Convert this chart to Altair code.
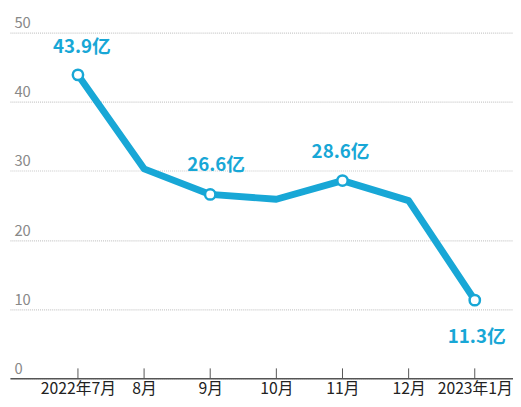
import altair as alt
import pandas as pd

months = ["2022年7月", "8月", "9月", "10月", "11月", "12月", "2023年1月"]
values = [43.9, 30.3, 26.6, 25.9, 28.6, 25.7, 11.3]
labeled = [True, False, True, False, True, False, True]
label_texts = ["43.9亿", "", "26.6亿", "", "28.6亿", "", "11.3亿"]
y_ticks = [0, 10, 20, 30, 40, 50]

df = pd.DataFrame({"month": months, "value": values, "labeled": labeled, "label": label_texts})

BLUE = "#18a7d6"
W, H = 511, 351
FONT = "Noto Sans CJK SC"

xscale = alt.Scale(type="point", padding=0.803, align=0.64)

x = alt.X("month:N", sort=months, scale=xscale,
          axis=alt.Axis(title=None, labelAngle=0, ticks=False, domain=True,
                        domainColor="#555", domainWidth=1.5, labelColor="#222",
                        labelFontSize=16, labelFont=FONT, labelPadding=3, grid=False))
y = alt.Y("value:Q", scale=alt.Scale(domain=[0, 50], nice=False),
          axis=alt.Axis(title=None, values=y_ticks, ticks=False, domain=False,
                        grid=True, gridColor="#c8c8c8", gridDash=[1, 1], gridWidth=1.2,
                        labelAlign="left", labelBaseline="bottom", labelPadding=-4,
                        labelOffset=-2, labelColor="#888", labelFontSize=15,
                        labelFont=FONT))

base = alt.Chart(df)

line = base.mark_line(color=BLUE, strokeWidth=7, strokeJoin="round", strokeCap="round").encode(x=x, y=y)

ticks = base.mark_rule(color="#555", strokeWidth=1).encode(
    x=alt.X("month:N", sort=months, scale=xscale),
    y=alt.value(H), y2=alt.value(H - 10))

pts = base.transform_filter("datum.labeled").mark_point(
    filled=True, fill="white", stroke=BLUE, strokeWidth=2.5, size=110, opacity=1
).encode(x=x, y=y)

def lab(m, dx, dy):
    return base.transform_filter(alt.datum.month == m).mark_text(
        color=BLUE, fontSize=19, fontWeight="bold", font=FONT, dx=dx, dy=dy
    ).encode(x=x, y=y, text="label:N")

texts = [lab("2022年7月", 4, -28), lab("9月", 6, -30),
         lab("11月", -2, -29), lab("2023年1月", 2, 38)]

chart = alt.layer(line, ticks, pts, *texts).properties(
    width=W, height=H,
    autosize=alt.AutoSizeParams(type="none"),
    padding={"left": 2, "top": 22, "right": 0, "bottom": 18},
).configure(background="white").configure_view(stroke=None)

chart.save("out.html", embed_options={"renderer": "svg", "actions": False})
